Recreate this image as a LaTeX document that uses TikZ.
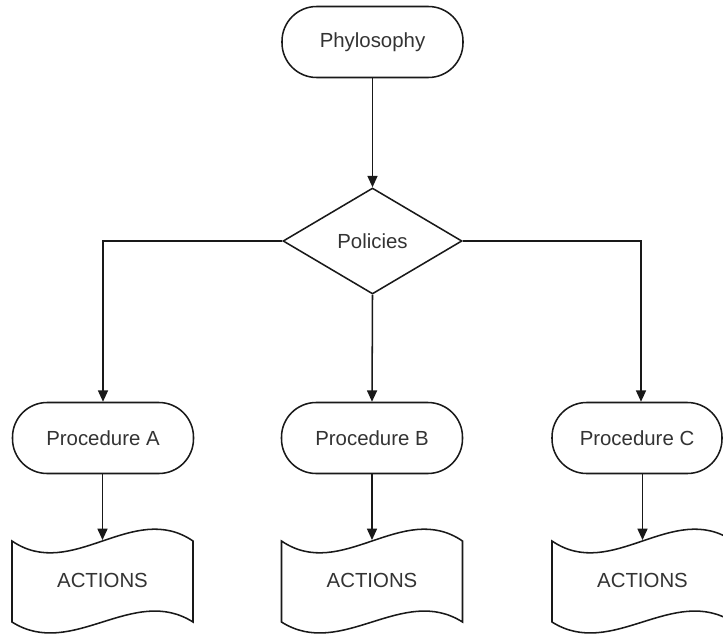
\documentclass[tikz,border=0pt]{standalone}
\usepackage{fontspec}
\setmainfont{Liberation Sans}
\usetikzlibrary{shapes.geometric,arrows.meta}
\begin{document}
\begin{tikzpicture}[x=0.75pt,y=-0.75pt,
  line/.style={draw=black!90,line width=1.15pt},
  txt/.style={text=black!80,font=\fontsize{15.3}{18}\selectfont},
  terminal/.style={line,txt,rectangle,rounded corners=26pt,minimum width=135.75pt,minimum height=53.25pt,inner sep=0pt},
  decision/.style={line,txt,diamond,inner sep=0pt,minimum width=134.25pt,minimum height=79.5pt},
  docbox/.style={txt,rectangle,inner sep=0pt,minimum width=135.75pt,minimum height=60.75pt},
  arr/.style={line,-{Triangle[length=8.5pt,width=7.5pt]}}]
\useasboundingbox (0,0) rectangle (723,635);
\clip (0,0) rectangle (723,635);
\fill[white] (0,0) rectangle (723,635);

\node[terminal] (phil) at (372.5,42) {Phylosophy};
\node[decision] (pol) at (372.5,241) {Policies};
\node[terminal] (procA) at (103,438) {Procedure A};
\node[terminal] (procB) at (372,438) {Procedure B};
\node[terminal,minimum width=127.5pt] (procC) at (637,438) {Procedure C};

\foreach \n/\cx in {A/102.5,B/372,C/642.5}{
  \node[docbox] (act\n) at (\cx,580) {ACTIONS};
  \draw[line] (\cx-90.5,541) .. controls +(60,41) and +(-60,-41) .. (\cx+90.5,541)
    -- (\cx+90.5,622) .. controls +(-60,-38) and +(60,38) .. (\cx-90.5,622) -- cycle;
  \coordinate (top\n) at (\cx,540);
}

\draw[arr] (phil) -- (pol);
\draw[arr] (pol.west) -| (procA.north);
\draw[arr] (pol.south) -- (procB.north);
\draw[arr] (pol.east) -| ([xshift=3pt]procC.north);
\draw[arr] (procA.south -| topA) -- (topA);
\draw[arr] (procB.south -| topB) -- (topB);
\draw[arr] (procC.south -| topC) -- (topC);
\end{tikzpicture}
\end{document}
